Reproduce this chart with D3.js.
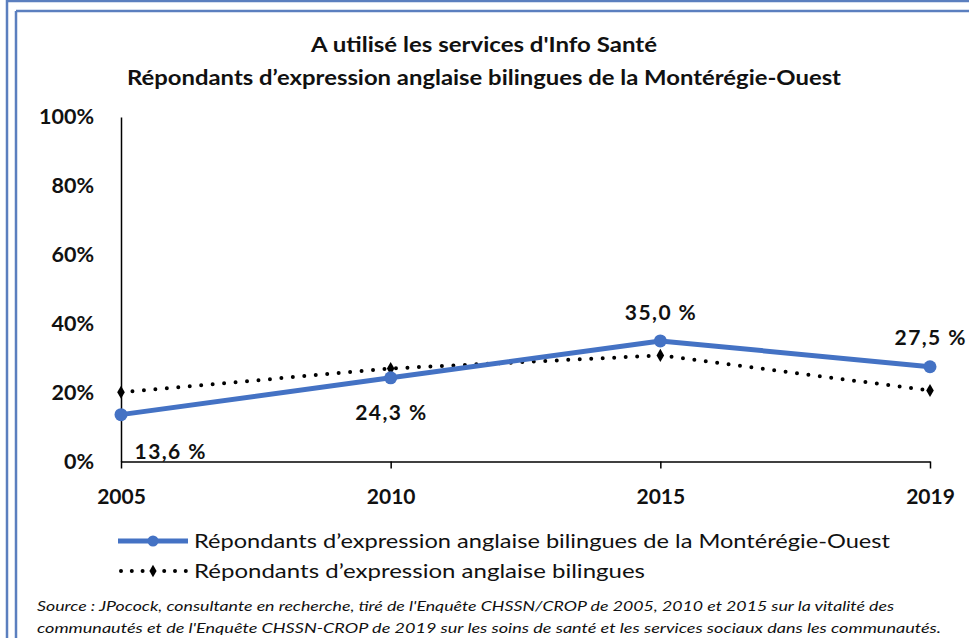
<!DOCTYPE html>
<html>
<head>
<meta charset="utf-8">
<script src="https://cdn.jsdelivr.net/npm/d3@7"></script>
<style>
  body { margin: 0; background: #fff; }
  svg { display: block; }
  text { font-family: Lato, "Open Sans", sans-serif; fill: #111; }
</style>
</head>
<body>
<svg id="chart" width="969" height="638"></svg>
<script>
// data
var years = ["2005", "2010", "2015", "2019"];
var monteregie = [13.6, 24.3, 35.0, 27.5];
var bilingues = [20.1, 27.0, 30.8, 20.6];
var yTicks = [0, 20, 40, 60, 80, 100];
var titleLines = ["A utilisé les services d'Info Santé",
    "Répondants d\u2019expression anglaise bilingues de la Montérégie-Ouest"];
var legendLabels = ["Répondants d\u2019expression anglaise bilingues de la Montérégie-Ouest",
    "Répondants d\u2019expression anglaise bilingues"];
var sourceLines = ["Source : JPocock, consultante en recherche, tiré de l'Enquête CHSSN/CROP de 2005, 2010 et 2015 sur la vitalité des",
    "communautés et de l'Enquête CHSSN-CROP de 2019 sur les soins de santé et les services sociaux dans les communautés."];

var blue = "#4472c4";
var svg = d3.select("#chart");

// window frame lines
var frame = "#5b7fbf";
svg.append("line").attr("x1", 7).attr("x2", 7).attr("y1", 0).attr("y2", 638)
    .attr("stroke", frame).attr("stroke-width", 2.5);
svg.append("line").attr("x1", 8).attr("x2", 969).attr("y1", 1).attr("y2", 1)
    .attr("stroke", frame).attr("stroke-width", 2.5);
svg.append("line").attr("x1", 16).attr("x2", 16).attr("y1", 11).attr("y2", 638)
    .attr("stroke", frame).attr("stroke-width", 2.5);
svg.append("line").attr("x1", 16).attr("x2", 969).attr("y1", 11).attr("y2", 11)
    .attr("stroke", frame).attr("stroke-width", 2.5);

// title
svg.selectAll("text.title")
    .data(titleLines)
    .enter()
    .append("text")
    .attr("class", "title")
    .attr("x", 484)
    .attr("y", function(d, i) { return 52 + i * 33; })
    .attr("text-anchor", "middle")
    .attr("font-weight", "bold")
    .attr("font-size", 20)
    .attr("textLength", function(d, i) { return i == 0 ? 346 : 714; })
    .attr("lengthAdjust", "spacingAndGlyphs")
    .text(function(d) { return d; });

// scales
var x = d3.scalePoint().domain(years).range([121, 930]);
var y = d3.scaleLinear().domain([0, 100]).range([461.5, 117]);

// y axis: just the line and labels
var yAxis = svg.append("g")
    .attr("transform", "translate(121,0)")
    .call(d3.axisLeft(y).tickValues(yTicks).tickSize(0).tickPadding(27)
        .tickFormat(function(d) { return d + "%"; }));
yAxis.select(".domain").attr("stroke", "#000").attr("stroke-width", 1.5);
yAxis.selectAll("text")
    .attr("font-size", 21.5).attr("font-weight", "bold")
    .attr("font-family", "'Open Sans', sans-serif").attr("fill", "#111");

// x axis
var xAxis = svg.append("g")
    .attr("transform", "translate(0," + y(0) + ")")
    .call(d3.axisBottom(x).tickSizeInner(7).tickSizeOuter(0).tickPadding(21));
xAxis.select(".domain").attr("stroke", "#000").attr("stroke-width", 1.5);
xAxis.selectAll(".tick line").attr("stroke", "#000").attr("stroke-width", 1.5);
xAxis.selectAll("text")
    .attr("font-size", 21).attr("font-weight", "bold")
    .attr("font-family", "'Open Sans', sans-serif").attr("fill", "#111");

var line = d3.line()
    .x(function(d, i) { return x(years[i]); })
    .y(function(d) { return y(d); });

// dotted series
svg.append("path")
    .datum(bilingues)
    .attr("d", line)
    .attr("fill", "none")
    .attr("stroke", "#000")
    .attr("stroke-width", 4)
    .attr("stroke-linecap", "round")
    .attr("stroke-dasharray", "0 11.5");
svg.selectAll("path.dia")
    .data(bilingues)
    .enter()
    .append("path")
    .attr("class", "dia")
    .attr("d", d3.symbol().type(d3.symbolDiamond).size(50))
    .attr("transform", function(d, i) { return "translate(" + x(years[i]) + "," + y(d) + ")"; })
    .attr("fill", "#000");

// blue series
svg.append("path")
    .datum(monteregie)
    .attr("d", line)
    .attr("fill", "none")
    .attr("stroke", blue)
    .attr("stroke-width", 5)
    .attr("stroke-linejoin", "round");
svg.selectAll("circle.pt")
    .data(monteregie)
    .enter()
    .append("circle")
    .attr("class", "pt")
    .attr("cx", function(d, i) { return x(years[i]); })
    .attr("cy", function(d) { return y(d); })
    .attr("r", 6.5)
    .attr("fill", blue);

// value labels
var labelDx = [49, 0, 0, 0];
var labelDy = [44, 42, -21, -22];
svg.selectAll("text.val")
    .data(monteregie)
    .enter()
    .append("text")
    .attr("class", "val")
    .attr("x", function(d, i) { return x(years[i]) + labelDx[i]; })
    .attr("y", function(d, i) { return y(d) + labelDy[i]; })
    .attr("text-anchor", "middle")
    .attr("font-family", "'Open Sans', sans-serif")
    .attr("font-size", 21)
    .attr("font-weight", "bold")
    .attr("textLength", 71)
    .attr("lengthAdjust", "spacing")
    .text(function(d) { return d3.format(".1f")(d).replace(".", ",") + " %"; });

// legend
var legend = svg.append("g");
legend.append("line").attr("x1", 118).attr("x2", 188).attr("y1", 541).attr("y2", 541)
    .attr("stroke", blue).attr("stroke-width", 5);
legend.append("circle").attr("cx", 153).attr("cy", 541).attr("r", 5.5).attr("fill", blue);
legend.append("line").attr("x1", 121).attr("x2", 186).attr("y1", 571).attr("y2", 571)
    .attr("stroke", "#000").attr("stroke-width", 4)
    .attr("stroke-linecap", "round").attr("stroke-dasharray", "0 10.8");
legend.append("path")
    .attr("d", d3.symbol().type(d3.symbolDiamond).size(45))
    .attr("transform", "translate(153,571)").attr("fill", "#000");
legend.selectAll("text")
    .data(legendLabels)
    .enter()
    .append("text")
    .attr("x", 194)
    .attr("y", function(d, i) { return 548 + i * 30; })
    .attr("font-size", 20)
    .attr("textLength", function(d, i) { return i == 0 ? 696 : 451; })
    .attr("lengthAdjust", "spacingAndGlyphs")
    .text(function(d) { return d; });

// source note
svg.selectAll("text.src")
    .data(sourceLines)
    .enter()
    .append("text")
    .attr("class", "src")
    .attr("x", 37)
    .attr("y", function(d, i) { return 611 + i * 22; })
    .attr("font-size", 13.5)
    .attr("font-style", "italic")
    .attr("fill", "#333")
    .attr("textLength", function(d, i) { return i == 0 ? 857 : 904; })
    .attr("lengthAdjust", "spacingAndGlyphs")
    .text(function(d) { return d; });
</script>
</body>
</html>
